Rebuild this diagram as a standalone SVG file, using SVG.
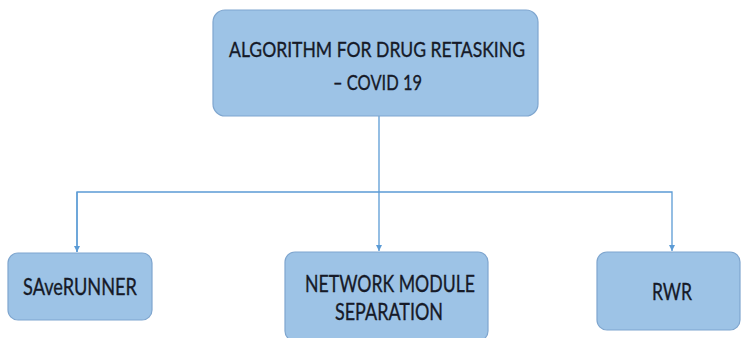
<svg xmlns="http://www.w3.org/2000/svg" width="743" height="338" viewBox="0 0 743 338">
<style>
.box{fill:#9dc3e6;stroke:#7fa6cf;stroke-width:1.2}
.t{font-family:Lato,"Open Sans","Liberation Sans",sans-serif;fill:#161a28;stroke:#161a28;stroke-width:0.35;text-anchor:middle}
.top{font-size:21.5px}
.bot{font-size:24px}
.c{fill:none;stroke:#5b9bd5;stroke-width:1.3}
</style>
<defs>
<marker id="ah" markerWidth="8" markerHeight="8" refX="6" refY="4" orient="auto" markerUnits="userSpaceOnUse">
<path d="M0,1 L6,4 L0,7 Z" fill="#5b9bd5"/>
</marker>
</defs>
<rect width="743" height="338" fill="#ffffff"/>
<g id="connectors">
<path class="c" d="M379,116 V251" marker-end="url(#ah)"/>
<path class="c" d="M77,252 V192 H672 V251" marker-end="url(#ah)"/>
<path class="c" d="M77,192 V252" marker-end="url(#ah)"/>
</g>
<g id="node-top">
<rect class="box" x="213" y="10" width="325" height="106" rx="12"/>
<text class="t top" x="377" y="57" textLength="296" lengthAdjust="spacingAndGlyphs">ALGORITHM FOR DRUG RETASKING</text>
<text class="t top" x="377.5" y="90" textLength="89" lengthAdjust="spacingAndGlyphs">– COVID 19</text>
</g>
<g id="node-saverunner">
<rect class="box" x="8" y="253" width="144" height="67" rx="10"/>
<text class="t bot" x="80" y="295" textLength="114" lengthAdjust="spacingAndGlyphs">SAveRUNNER</text>
</g>
<g id="node-network">
<rect class="box" x="285" y="252" width="203" height="89" rx="10"/>
<text class="t bot" x="390" y="292" textLength="170" lengthAdjust="spacingAndGlyphs">NETWORK MODULE</text>
<text class="t bot" x="389" y="320" textLength="108" lengthAdjust="spacingAndGlyphs">SEPARATION</text>
</g>
<g id="node-rwr">
<rect class="box" x="597" y="252" width="143" height="78" rx="10"/>
<text class="t bot" x="672" y="300" textLength="40" lengthAdjust="spacingAndGlyphs">RWR</text>
</g>
</svg>
